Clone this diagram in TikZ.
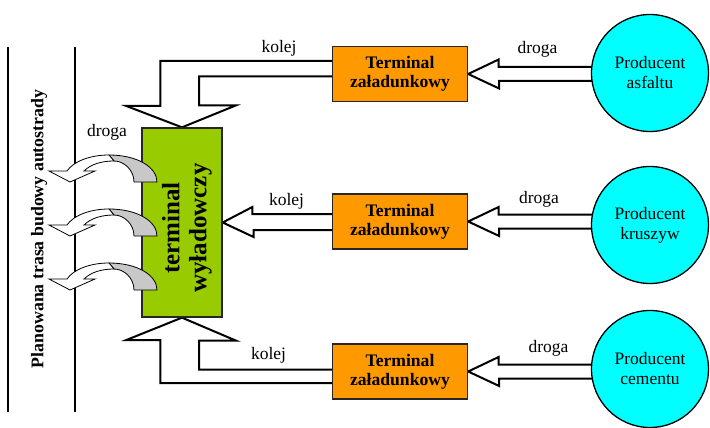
\documentclass[tikz,border=0pt]{standalone}
\usepackage{fontspec}
\setmainfont{Liberation Serif}
\usetikzlibrary{calc,backgrounds}
\definecolor{orangeT}{HTML}{FF9900}
\definecolor{greenT}{HTML}{99CC00}
\definecolor{cyanP}{HTML}{00FFFF}
\definecolor{grayA}{HTML}{C8C8C8}
\begin{document}
\begin{tikzpicture}[x=1pt,y=-1pt,
  term/.style={draw=black!85, line width=1.3pt, fill=orangeT, minimum width=135pt, minimum height=55pt, inner sep=0pt, align=center, font=\fontsize{17.6}{19}\selectfont\bfseries},
  prod/.style={circle, draw, line width=1.3pt, fill=cyanP, minimum size=117pt, inner sep=0pt, align=center, font=\fontsize{17.5}{20}\selectfont},
  hollow/.style={draw, line width=2pt, fill=white, line join=miter},
  lbl/.style={font=\fontsize{17.5}{20}\selectfont, inner sep=0pt},
  curv/.style={draw, line width=0.8pt},
]
\useasboundingbox (0,0) rectangle (710,428);
% road lines
\draw[line width=2pt] (8,47) -- (8,412);
\draw[line width=2pt] (75,47) -- (75,412);
\node[rotate=90, inner sep=0pt, font=\fontsize{17.8}{20}\selectfont\bfseries] (road) at (39,229) {Planowana trasa budowy autostrady};
% unloading terminal
\node[draw=black!85, line width=1.3pt, fill=greenT, minimum width=80pt, minimum height=189pt, inner sep=0pt] (G) at (182,222.5) {};
\node[rotate=90, inner sep=0pt, align=center, font=\fontsize{25}{27}\selectfont\bfseries] (Gtxt) at (187,228) {terminal\\wyładowczy};
% loading terminals
\node[term] (T1) at (400,74) {Terminal\\załadunkowy};
\node[term] (T2) at (400,221.5) {Terminal\\załadunkowy};
\node[term] (T3) at (400,371.5) {Terminal\\załadunkowy};
% producers
\node[prod] (P1) at (650,73) {Producent\\asfaltu};
\node[prod] (P2) at (650,225) {Producent\\kruszyw};
\node[prod] (P3) at (650,369) {Producent\\cementu};
% labels
\node[lbl] (k1) at (279,48) {kolej};
\node[lbl] (d1) at (537.5,49) {droga};
\node[lbl] (k2) at (286.5,201) {kolej};
\node[lbl] (d2) at (539,199) {droga};
\node[lbl] (k3) at (268.5,355) {kolej};
\node[lbl] (d3) at (548.5,348.5) {droga};
\node[lbl] (dl) at (107,132) {droga};
% hollow arrows
\begin{pgfonlayer}{background}
\draw[hollow] ($(T1.east)+(130,-7)$) -- ++(-99.5,0) -- ++(0,-7.5) -- (T1.east) -- ++(31,14.5) -- ++(0,-7.5) -- ++(99.5,0);
\draw[hollow] ($(T2.east)+(130,-7)$) -- ++(-99.5,0) -- ++(0,-7.5) -- (T2.east) -- ++(31,14.5) -- ++(0,-7.5) -- ++(99.5,0);
\draw[hollow] ($(T3.east)+(130,-7)$) -- ++(-99.5,0) -- ++(0,-7.5) -- (T3.east) -- ++(31,14.5) -- ++(0,-7.5) -- ++(99.5,0);
\draw[hollow] ($(T1.west)+(0,-13)$) -- ++(-171.5,0) -- ++(0,45) -- ++(-34,0) -- (G.north) -- ++(54,-22) -- ++(-37,0) -- ++(0,-29) -- ++(133.5,0);
\draw[hollow] ($(T2.west)+(0,-7.5)$) -- ++(-79.5,0) -- ++(0,-7) -- (G.east) -- ++(31,14.5) -- ++(0,-7) -- ++(79.5,0);
\draw[hollow] ($(T3.west)+(0,11.5)$) -- ++(-171.5,0) -- ++(0,-43) -- ++(-34,0) -- (G.south) -- ++(54,23) -- ++(-37,0) -- ++(0,29) -- ++(133.5,0);
\end{pgfonlayer}
% curved road arrows
\foreach \yy in {182,236,290}{
 \begin{scope}[shift={(157,\yy)}]
  \filldraw[curv, fill=grayA] (0,0) .. controls (0,-15) and (-20,-27) .. (-48,-27) -- (-43,-21) .. controls (-33,-21) and (-23,-12) .. (-23,0) -- cycle;
  \filldraw[curv, fill=white] (-48,-27) .. controls (-68,-27) and (-84,-20) .. (-90,-11) -- (-108,-11) -- (-87,0) -- (-62,-11) -- (-73,-11) .. controls (-66,-18) and (-55,-21) .. (-43,-21) -- cycle;
 \end{scope}
}
\end{tikzpicture}
\end{document}
